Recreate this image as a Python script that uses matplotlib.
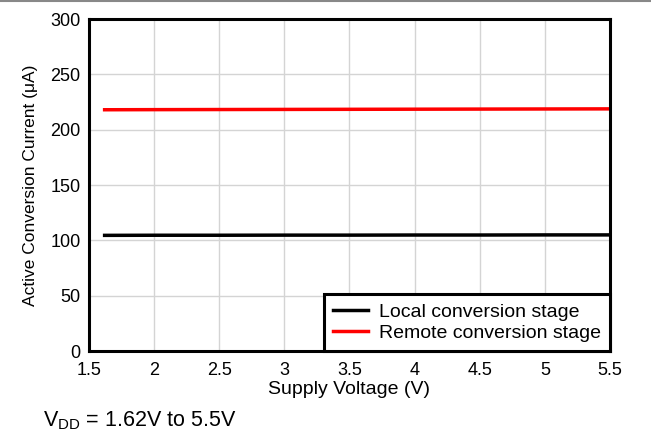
import matplotlib
matplotlib.use("Agg")
import matplotlib.pyplot as plt
from matplotlib.lines import Line2D

plt.rcParams['font.family'] = ['Liberation Sans', 'DejaVu Sans']

# supply voltage (V)
vdd = [1.62, 2.0, 2.5, 3.0, 3.5, 4.0, 4.5, 5.0, 5.5]
# active conversion current (uA)
local_stage = [104.5, 104.6, 104.6, 104.7, 104.7, 104.8, 104.8, 104.9, 104.9]
remote_stage = [218.0, 218.1, 218.2, 218.3, 218.4, 218.5, 218.6, 218.7, 218.8]

x_ticks = [1.5, 2, 2.5, 3, 3.5, 4, 4.5, 5, 5.5]
x_tick_labels = ['1.5', '2', '2.5', '3', '3.5', '4', '4.5', '5', '5.5']
y_ticks = [0, 50, 100, 150, 200, 250, 300]

fig = plt.figure(figsize=(6.51, 4.32), dpi=100)
ax = fig.add_axes([0.1367, 0.1875, 0.8003, 0.7685])

ax.plot(vdd, local_stage, color='black', lw=2.5, label='Local conversion stage')
ax.plot(vdd, remote_stage, color='#ff0000', lw=2.5, label='Remote conversion stage')

ax.set_xlim(1.5, 5.5)
ax.set_ylim(0, 300)
ax.set_xticks(x_ticks)
ax.set_xticklabels(x_tick_labels)
ax.set_yticks(y_ticks)
ax.grid(True, color='#d4d4d4', lw=1)
ax.set_axisbelow(True)
ax.tick_params(length=0, labelsize=13)
ax.tick_params(axis='x', pad=8)
ax.tick_params(axis='y', pad=6)
for s in ax.spines.values():
    s.set_linewidth(2.2)

ax.set_xlabel('Supply Voltage (V)', fontsize=14, labelpad=1)
ax.set_ylabel('Active Conversion Current (\u03bcA)', fontsize=12.5, labelpad=9)

leg = ax.legend(loc='lower right', fontsize=14, frameon=True, fancybox=False,
                borderaxespad=0, handlelength=1.8, handletextpad=0.6,
                labelspacing=0.2, borderpad=0.45)
leg.get_frame().set_edgecolor('black')
leg.get_frame().set_linewidth(2.2)
leg.get_frame().set_alpha(1)

fig.add_artist(Line2D([0, 1], [0.997, 0.997], color='#888888', lw=1.5))
fig.text(0.066, 0.012, r'V$_{\mathregular{DD}}$ = 1.62V to 5.5V', fontsize=15.5)

fig.savefig('out.png', dpi=100)
